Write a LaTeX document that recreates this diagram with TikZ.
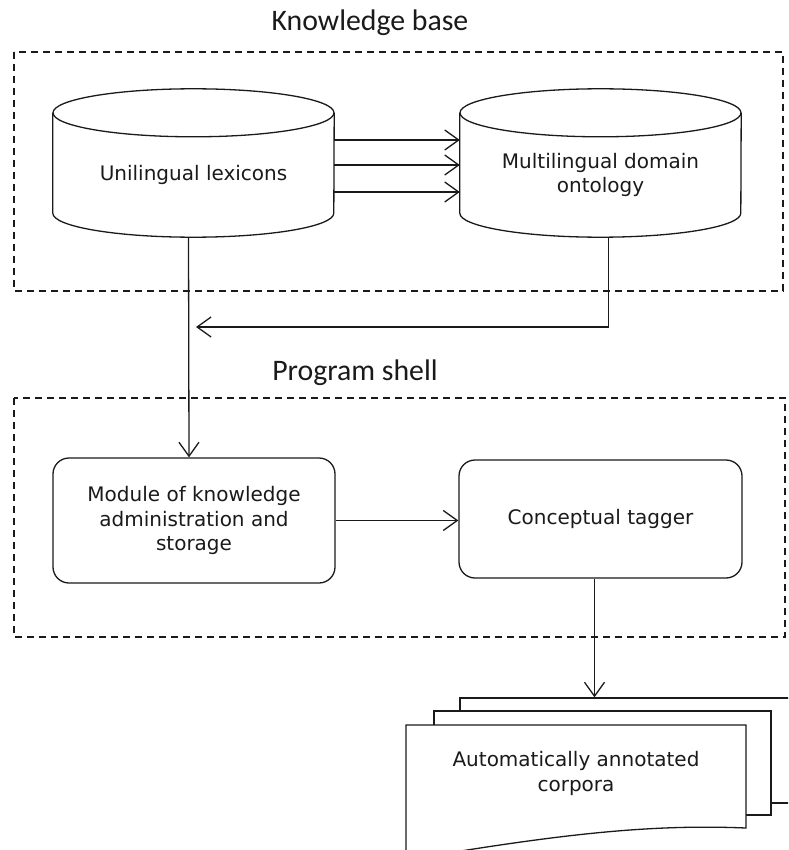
\documentclass[tikz,border=0pt]{standalone}
\usepackage{fontspec}
\setmainfont{DejaVu Sans}
\newfontfamily\headfont{Carlito}
\usetikzlibrary{arrows.meta, positioning}

\begin{document}
\begin{tikzpicture}[
    x=1pt, y=-1pt,
    every node/.style={font=\fontsize{20}{24.5}\selectfont, text=ink},
    wire/.style={draw=ink, line width=1.3pt},
    flow/.style={wire, -{Straight Barb[length=14pt, width=20pt, line width=1.3pt]}},
    groupbox/.style={draw=ink, line width=1.2pt, dash pattern=on 7pt off 5pt},
    grouptitle/.style={font=\headfont\fontsize{29.8}{32}\selectfont},
    store/.style={rectangle, minimum width=281pt, minimum height=124pt, align=center},
    module/.style={wire, rectangle, rounded corners=16pt, align=center, fill=white},
    sheet/.style={wire, rectangle, fill=white},
]

\definecolor{ink}{HTML}{1A1A1A}

\useasboundingbox (0,0) rectangle (788,850);
\clip (0,0) rectangle (788,850);

% ------------------------------------------------------------ knowledge base
\node[grouptitle] (kbtitle) at (370,23) {Knowledge base};
\draw[groupbox] (14,52) rectangle (783,291);

% a store node runs from the centre of the lid down to the bottom rim
\node[store] (lex) at (193.5,175) {Unilingual lexicons};
\node[store] (onto) at (600.5,175) {Multilingual domain\\ontology};

\foreach \can in {lex, onto} {
    \draw[wire] (\can.north) ellipse [x radius=140.5pt, y radius=24pt];
    \draw[wire] (\can.north west) -- ([yshift=24pt]\can.south west)
        arc [start angle=180, end angle=360, x radius=140.5pt, y radius=24pt]
        -- (\can.north east);
}

\foreach \dy in {35, 10, -17}
    \draw[flow] ([yshift=\dy pt]lex.east) -- ([yshift=\dy pt]onto.west);

% ------------------------------------------------------------ program shell
\node[grouptitle] (pstitle) at (355,373) {Program shell};
\draw[groupbox] (14,398) rectangle (785,637);

\node[module, minimum width=282pt, minimum height=125pt] (admin)
    at (194,520.5) {Module of knowledge\\administration and\\storage};
\node[module, minimum width=283pt, minimum height=118pt] (tagger)
    at (600.5,519) {Conceptual tagger};

\coordinate (merge) at (196,327);
\draw[flow] ([xshift=-5pt]lex.south) -- ([xshift=-5pt]admin.north);
\draw[flow] ([xshift=8pt]onto.south) |- (merge);
\draw[flow] (admin.east) -- (admin.east -| tagger.west);

% ------------------------------------------------------------ output corpora
\node[sheet, minimum width=340pt, minimum height=105pt] (corpback) at (630,750.5) {};
\node[sheet, minimum width=337pt, minimum height=104pt] (corpmid) at (602.5,763) {};
\draw[wire, fill=white] (406,725) -- (746,725) -- (746,828)
    .. controls (650,824) and (560,834) .. (406,860) -- cycle;
\node[align=center] (corp) at (576,773.5) {Automatically annotated\\corpora};

\draw[flow] ([xshift=-6pt]tagger.south) -- ([xshift=-6pt]tagger.south |- corpback.north);

\end{tikzpicture}
\end{document}
